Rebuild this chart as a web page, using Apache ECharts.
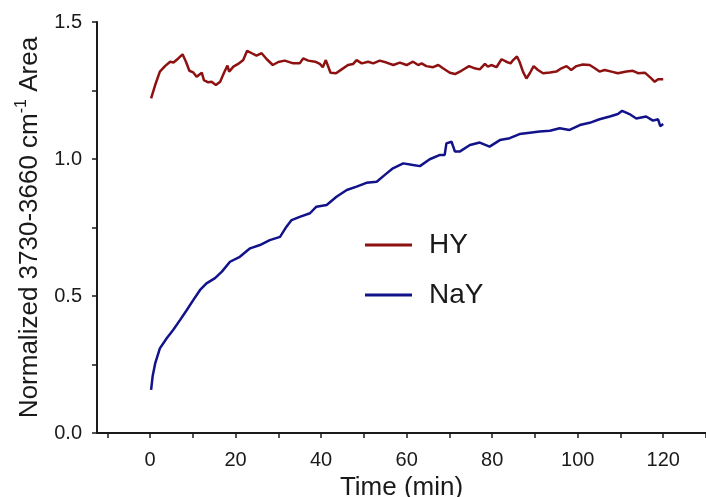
<!DOCTYPE html>
<html>
<head>
<meta charset="utf-8">
<script src="https://cdn.jsdelivr.net/npm/echarts@6/dist/echarts.min.js"></script>
<style>
html,body{margin:0;padding:0;background:#fff;}
#chart{width:706px;height:497px;}
</style>
</head>
<body>
<div id="chart"></div>
<script>
// ---- data ----
const hyTime = [0.25,1.2,2.3,3.5,4.7,5.5,6.6,7.6,8.4,9.2,10.1,10.9,12.1,12.6,13.6,14.4,15.4,16.4,17.3,18.1,18.5,19.5,20.6,21.8,22.7,23.8,24.9,26.1,27.3,28.7,30.0,31.5,33.5,35.0,35.8,37.0,38.6,39.7,40.4,41.1,42.2,43.5,44.8,46.3,47.5,48.3,49.5,51.0,52.2,53.7,55.3,56.9,58.4,60.0,61.5,62.7,63.5,64.6,66.2,67.4,68.5,70.1,71.3,72.8,74.6,75.9,77.1,78.3,79.0,79.8,81.0,82.2,83.3,84.3,84.9,85.8,86.4,87.2,88.0,88.8,89.7,90.7,91.9,93.5,95.0,96.2,97.4,98.5,99.7,101.2,102.8,104.0,105.1,106.3,107.9,109.4,111.4,112.9,114.1,115.7,117.2,118.0,118.8,120.0];
const hyValue = [1.221,1.270,1.319,1.339,1.355,1.352,1.367,1.382,1.355,1.322,1.316,1.300,1.315,1.288,1.280,1.282,1.270,1.282,1.315,1.341,1.319,1.337,1.347,1.361,1.395,1.386,1.377,1.386,1.364,1.343,1.354,1.359,1.349,1.349,1.367,1.359,1.355,1.347,1.335,1.361,1.315,1.313,1.327,1.343,1.347,1.361,1.349,1.355,1.349,1.359,1.352,1.343,1.352,1.343,1.355,1.343,1.349,1.339,1.335,1.343,1.331,1.315,1.310,1.322,1.339,1.331,1.327,1.347,1.337,1.343,1.335,1.364,1.355,1.349,1.361,1.374,1.355,1.319,1.294,1.313,1.339,1.325,1.313,1.316,1.319,1.331,1.339,1.325,1.339,1.345,1.343,1.331,1.319,1.325,1.319,1.313,1.319,1.322,1.313,1.315,1.294,1.282,1.291,1.291];
const nayTime = [0.25,0.6,1.2,2.3,3.9,5.4,7.0,8.6,10.1,11.7,13.2,15.2,16.8,18.7,21.0,23.4,25.7,28.0,30.4,31.9,33.1,35.0,37.4,38.9,41.3,43.6,46.0,48.3,50.6,53.0,54.9,56.8,59.2,61.5,63.1,65.4,67.8,68.9,69.3,70.5,71.3,72.4,74.8,77.1,79.4,81.8,84.1,86.4,88.8,91.1,93.5,95.8,98.1,100.5,102.8,105.1,107.5,109.4,110.4,112.1,113.7,116.0,117.6,118.8,119.3,120.0];
const nayValue = [0.157,0.206,0.254,0.309,0.346,0.376,0.412,0.449,0.485,0.522,0.546,0.565,0.589,0.625,0.643,0.674,0.686,0.704,0.716,0.753,0.777,0.789,0.802,0.826,0.832,0.862,0.887,0.899,0.913,0.917,0.942,0.966,0.984,0.978,0.974,0.999,1.015,1.015,1.057,1.063,1.027,1.027,1.051,1.060,1.045,1.069,1.076,1.091,1.096,1.100,1.103,1.112,1.106,1.124,1.132,1.145,1.155,1.164,1.176,1.164,1.148,1.155,1.140,1.145,1.120,1.128];
const xTickLabels = [0,20,40,60,80,100,120];
const xTickMarks = [-10,0,10,20,30,40,50,60,70,80,90,100,110,120,130];
const yTickMarks = [0,0.25,0.5,0.75,1.0,1.25,1.5];
const seriesNames = ['HY','NaY'];

const FONT = '"Liberation Sans", Arial, sans-serif';
const pairs = (xs, ys) => xs.map((x, i) => [x, ys[i]]);

const chart = echarts.init(document.getElementById('chart'));
chart.setOption({
  backgroundColor: '#fff',
  animation: false,
  textStyle: { fontFamily: FONT },
  grid: { left: 97, right: 0, top: 22, bottom: 64, containLabel: false, outerBoundsMode: 'none' },
  legend: {
    data: seriesNames,
    orient: 'vertical',
    left: 365,
    top: 226,
    padding: 0,
    itemWidth: 47,
    itemHeight: 3,
    itemGap: 12,
    icon: 'rect',
    textStyle: { fontFamily: FONT, fontSize: 28, lineHeight: 30, color: '#1a1a1a', padding: [8, 0, 0, 12] }
  },
  xAxis: {
    type: 'value',
    min: -12.4,
    max: 130,
    name: 'Time (min)',
    nameLocation: 'middle',
    nameGap: 41,
    nameTextStyle: { fontFamily: FONT, fontSize: 26, color: '#1a1a1a' },
    axisLine: { show: true, onZero: false, lineStyle: { color: '#1a1a1a', width: 2 } },
    axisTick: { show: true, inside: false, length: 5, customValues: xTickMarks, lineStyle: { color: '#1a1a1a', width: 1.5 } },
    axisLabel: { customValues: xTickLabels, margin: 17, fontFamily: FONT, fontSize: 20, color: '#1a1a1a' },
    splitLine: { show: false }
  },
  yAxis: {
    type: 'value',
    min: 0,
    max: 1.5,
    interval: 0.5,
    name: '{n|Normalized 3730-3660 cm}{s|-1}{n| Area}',
    nameLocation: 'middle',
    nameGap: 52,
    nameRotate: 90,
    nameTextStyle: {
      fontFamily: FONT, fontSize: 26, color: '#1a1a1a',
      rich: {
        n: { fontFamily: FONT, fontSize: 26, color: '#1a1a1a', lineHeight: 30, verticalAlign: 'bottom' },
        s: { fontFamily: FONT, fontSize: 16, color: '#1a1a1a', lineHeight: 30, verticalAlign: 'top', padding: [0, 0, 12, 0] }
      }
    },
    axisLine: { show: true, onZero: false, lineStyle: { color: '#1a1a1a', width: 2 } },
    axisTick: { show: true, inside: false, length: 5, customValues: yTickMarks, lineStyle: { color: '#1a1a1a', width: 1.5 } },
    axisLabel: { margin: 15, fontFamily: FONT, fontSize: 20, color: '#1a1a1a', formatter: v => v.toFixed(1) },
    splitLine: { show: false }
  },
  series: [
    {
      name: seriesNames[0], type: 'line', data: pairs(hyTime, hyValue),
      showSymbol: false, symbol: 'none', color: '#8e1111',
      lineStyle: { color: '#8e1111', width: 2.5 }
    },
    {
      name: seriesNames[1], type: 'line', data: pairs(nayTime, nayValue),
      showSymbol: false, symbol: 'none', color: '#12128a',
      lineStyle: { color: '#12128a', width: 2.5 }
    }
  ]
});
</script>
</body>
</html>
